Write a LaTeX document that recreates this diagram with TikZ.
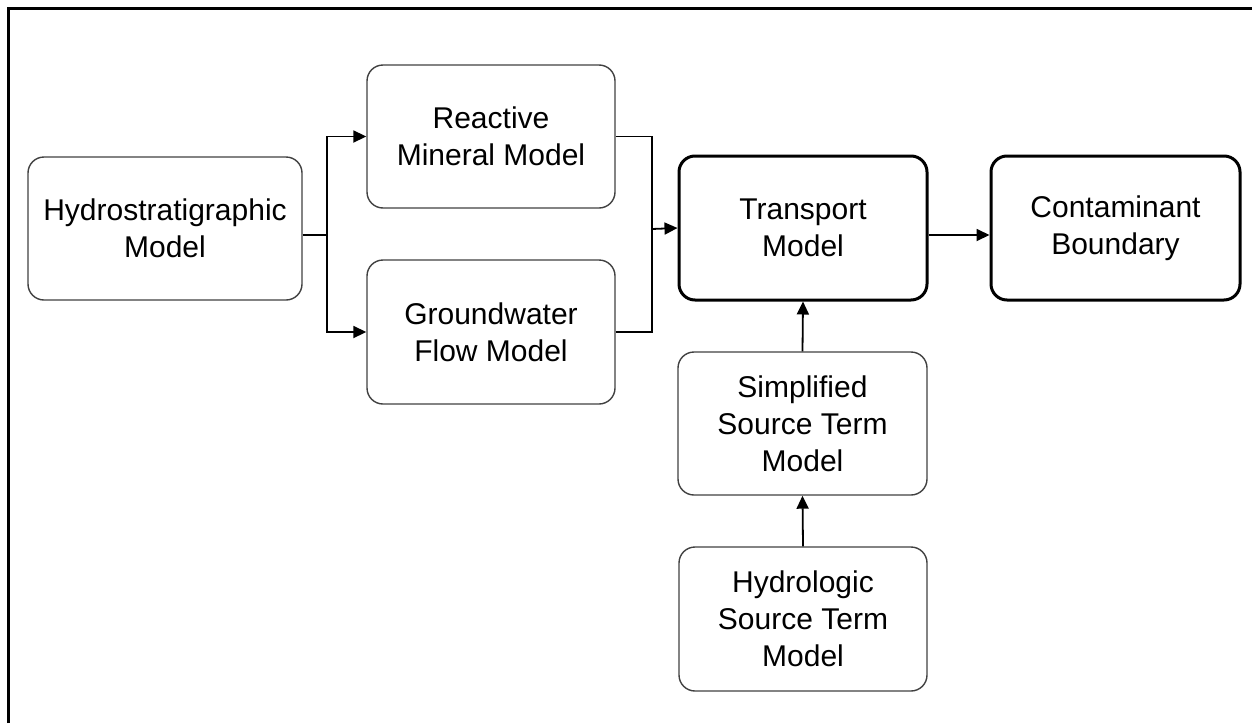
\documentclass[tikz,border=0pt]{standalone}
\usepackage{fontspec}
\setmainfont{Liberation Sans}
\usetikzlibrary{arrows.meta,calc}
\begin{document}
\begin{tikzpicture}[x=1pt,y=-1pt,
  box/.style={draw=black!75, line width=1.4pt, rounded corners=16pt, align=center,
    minimum width=248pt, minimum height=143pt, inner sep=0pt,
    font=\fontsize{30}{37}\selectfont},
  boldbox/.style={box, draw=black, line width=3pt},
  conn/.style={line width=1.8pt, black},
  arr/.style={conn, -{Triangle[length=13pt,width=12pt]}}]
\useasboundingbox (0,0) rectangle (1252,723);
\draw[line width=3pt] (8.5,723) -- (8.5,8.5) -- (1252,8.5);

\node[box, minimum width=274pt] (hydro) at (165,228.5) {Hydrostratigraphic\\Model};
\node[box] (reactive) at (491,136.5) {Reactive\\Mineral Model};
\node[box, minimum height=144pt] (ground) at (491,332) {Groundwater\\Flow Model};
\node[boldbox, minimum height=144pt] (transport) at (803,228) {Transport\\Model};
\node[boldbox, minimum height=144pt, minimum width=249pt] (contam) at (1115.5,228) {Contaminant\\Boundary};
\node[box, minimum width=249pt] (simpl) at (802.5,423.5) {Simplified\\Source Term\\Model};
\node[box, minimum height=144pt] (hsource) at (803,619) {Hydrologic\\Source Term\\Model};

\coordinate (j1) at (327,235);
\coordinate (j2) at (652,229);
\draw[conn] (hydro.east |- j1) -- (j1);
\draw[arr] (j1) |- (reactive.west);
\draw[arr] (j1) |- (ground.west);
\draw[conn] (reactive.east) -| (j2);
\draw[conn] (ground.east) -| (j2);
\draw[arr] (j2) -- (transport.west);
\draw[arr] ([yshift=-7pt]transport.east) -- ([yshift=-7pt]contam.west);
\draw[arr] (simpl.north) -- (transport.south);
\draw[arr] (hsource.north) -- (simpl.south);
\end{tikzpicture}
\end{document}
